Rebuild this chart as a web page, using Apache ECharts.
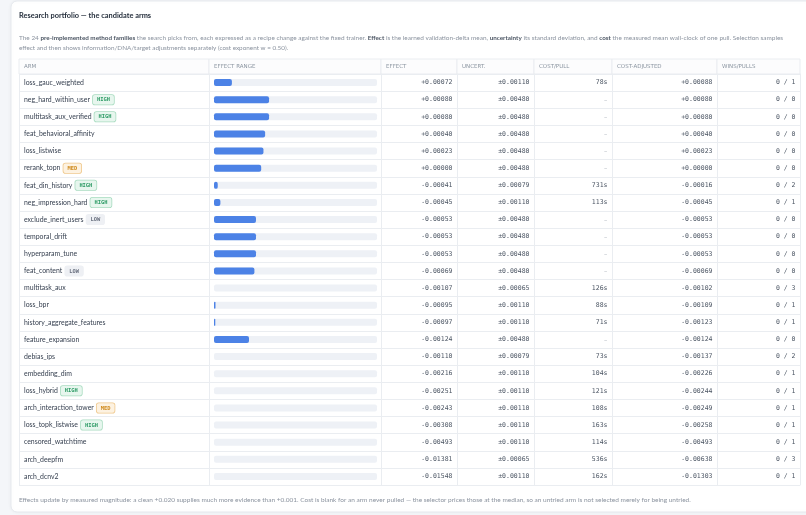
<!DOCTYPE html>
<html lang="en">
<head>
<meta charset="UTF-8">
<title>Research portfolio — the candidate arms</title>
<script src="https://cdn.jsdelivr.net/npm/echarts@6/dist/echarts.min.js"></script>
<style>
    html, body { margin: 0; padding: 0; background: #f4f6f9; }
    #chart { width: 806px; height: 515px; }
</style>
</head>
<body>
<div id="chart"></div>
<script>
    // 表格数据：每行一个候选 arm
    const arms = ['loss_gauc_weighted', 'neg_hard_within_user', 'multitask_aux_verified', 'feat_behavioral_affinity',
        'loss_listwise', 'rerank_topn', 'feat_din_history', 'neg_impression_hard', 'exclude_inert_users',
        'temporal_drift', 'hyperparam_tune', 'feat_content', 'multitask_aux', 'loss_bpr',
        'history_aggregate_features', 'feature_expansion', 'debias_ips', 'embedding_dim', 'loss_hybrid',
        'arch_interaction_tower', 'loss_topk_listwise', 'censored_watchtime', 'arch_deepfm', 'arch_dcnv2'];
    const badges = ['', 'HIGH', 'HIGH', '', '', 'MED', 'HIGH', 'HIGH', 'LOW', '', '', 'LOW',
        '', '', '', '', '', '', 'HIGH', 'MED', 'HIGH', '', '', ''];
    const effect = [0.00072, 0.00080, 0.00080, 0.00040, 0.00023, 0.00000, -0.00041, -0.00045, -0.00053,
        -0.00053, -0.00053, -0.00069, -0.00107, -0.00095, -0.00097, -0.00124, -0.00110, -0.00216,
        -0.00251, -0.00243, -0.00308, -0.00493, -0.01381, -0.01548];
    const uncert = [0.00110, 0.00480, 0.00480, 0.00480, 0.00480, 0.00480, 0.00079, 0.00110, 0.00480,
        0.00480, 0.00480, 0.00480, 0.00065, 0.00110, 0.00110, 0.00480, 0.00079, 0.00110,
        0.00110, 0.00110, 0.00110, 0.00110, 0.00065, 0.00110];
    const costPerPull = [78, null, null, null, null, null, 731, 113, null, null, null, null,
        126, 88, 71, null, 73, 104, 121, 108, 163, 114, 536, 162];
    const costAdjusted = [0.00088, 0.00080, 0.00080, 0.00040, 0.00023, 0.00000, -0.00016, -0.00045, -0.00053,
        -0.00053, -0.00053, -0.00069, -0.00102, -0.00109, -0.00123, -0.00124, -0.00137, -0.00226,
        -0.00244, -0.00249, -0.00258, -0.00493, -0.00638, -0.01303];
    const wins = [0, 0, 0, 0, 0, 0, 0, 0, 0, 0, 0, 0, 0, 0, 0, 0, 0, 0, 0, 0, 0, 0, 0, 0];
    const pulls = [1, 0, 0, 0, 0, 0, 2, 1, 0, 0, 0, 0, 3, 1, 1, 0, 2, 1, 1, 1, 1, 1, 3, 1];
    const headers = ['ARM', 'EFFECT RANGE', 'EFFECT', 'UNCERT.', 'COST/PULL', 'COST-ADJUSTED', 'WINS/PULLS'];

    const SANS = 'Lato, "Open Sans", sans-serif';
    const MONO = '"DejaVu Sans Mono", monospace';
    const LINE = '#eaedf1';

    // 列布局 (像素)
    const colEdges = [19, 209, 381, 457, 534, 612, 717, 800];
    const colAlign = ['left', 'left', 'right', 'right', 'right', 'right', 'right'];
    const HEAD_TOP = 59, BODY_TOP = 74, BODY_H = 411;

    function fmtSigned (v) {
        return (v >= 0 ? '+' : '-') + Math.abs(v).toFixed(5);
    }

    // 效果区间: 从 0 画到 effect + uncertainty 的上界, 刻度取所有边界绝对值的最大值
    const upper = effect.map((e, i) => Math.max(0, e + uncert[i]));
    const rangeMax = Math.max(...effect.map((e, i) => Math.max(Math.abs(e + uncert[i]), Math.abs(e - uncert[i]))));

    const cellTexts = [
        arms.map((a, i) => badges[i] ? a + '{sp| }{' + badges[i] + '|' + badges[i] + '}' : a),
        null,
        effect.map(fmtSigned),
        uncert.map((u) => '±' + u.toFixed(5)),
        costPerPull.map((c) => c === null ? '–' : c + 's'),
        costAdjusted.map(fmtSigned),
        wins.map((w, i) => w + ' / ' + pulls[i])
    ];

    const badgeBase = {
        fontFamily: MONO, fontSize: 5.4, fontWeight: 'bold',
        padding: [2.4, 4, 2, 4], borderRadius: 2, borderWidth: 0.8, lineHeight: 6
    };
    const badgeRich = {
        sp: {width: 3},
        HIGH: Object.assign({}, badgeBase, {fill: '#2f9c67', backgroundColor: '#e7f6ee', borderColor: '#a9dcc1'}),
        MED: Object.assign({}, badgeBase, {fill: '#cf8a1c', backgroundColor: '#fdf2e1', borderColor: '#efc88c'}),
        LOW: Object.assign({}, badgeBase, {fill: '#6b7280', backgroundColor: '#eef0f4', borderColor: '#eef0f4'})
    };

    let grid = [], xAxis = [], yAxis = [], series = [];

    function addGrid (left, right, top, height, extra) {
        grid.push(Object.assign({left: left, width: right - left, top: top, height: height}, extra || {}));
        return grid.length - 1;
    }

    function textSeries (gi, texts, align, styleFn) {
        return {
            type: 'custom', xAxisIndex: gi, yAxisIndex: gi, silent: true,
            data: texts.map((t, i) => [align === 'left' ? 0 : 1, i]),
            renderItem: function (params, api) {
                let p = api.coord([api.value(0), api.value(1)]);
                let style = Object.assign({
                    text: texts[params.dataIndex],
                    fill: '#4b5563', fontFamily: MONO, fontSize: 6.5,
                    align: align, verticalAlign: 'middle'
                }, styleFn ? styleFn(params.dataIndex) : {});
                return {type: 'text', x: p[0] + (align === 'left' ? 5 : -4.5), y: p[1], style: style};
            }
        };
    }

    for (let c = 0; c < headers.length; c++) {
        let x0 = colEdges[c], x1 = colEdges[c + 1];
        // 表头
        let hg = addGrid(x0, x1, HEAD_TOP, BODY_TOP - HEAD_TOP, {show: true, borderColor: LINE, borderWidth: 1, backgroundColor: '#fcfcfd'});
        xAxis.push({gridIndex: hg, type: 'value', min: 0, max: 1, show: false});
        yAxis.push({gridIndex: hg, type: 'category', data: ['h'], show: false});
        series.push(textSeries(hg, [headers[c]], 'left', () => ({fill: '#8b95a1', fontFamily: '"DejaVu Sans", sans-serif', fontSize: 5.5})));

        // 表体
        let bg = addGrid(x0, x1, BODY_TOP, BODY_H);
        xAxis.push({gridIndex: bg, type: 'value', min: 0, max: 1, show: false});
        yAxis.push({
            gridIndex: bg, type: 'category', data: arms, inverse: true,
            axisLine: {show: true, onZero: false, lineStyle: {color: LINE}},
            axisTick: {show: false}, axisLabel: {show: false},
            splitLine: {show: true, lineStyle: {color: LINE}}
        });
        if (c === headers.length - 1) {
            yAxis.push({
                gridIndex: bg, type: 'category', data: arms, inverse: true, position: 'right',
                axisLine: {show: true, onZero: false, lineStyle: {color: LINE}},
                axisTick: {show: false}, axisLabel: {show: false}, splitLine: {show: false}
            });
        }
        if (c === 0) {
            series.push(textSeries(bg, cellTexts[0], 'left', () => ({
                fill: '#374151', fontFamily: SANS, fontSize: 6.9, rich: badgeRich
            })));
        } else if (cellTexts[c]) {
            series.push(textSeries(bg, cellTexts[c], colAlign[c], (i) =>
                (c === 4 && costPerPull[i] === null) ? {fill: '#a3aab4', fontFamily: SANS} : {}));
        }
    }

    // 效果区间条
    let barGrid = addGrid(214, 377, BODY_TOP, BODY_H);
    xAxis.push({gridIndex: barGrid, type: 'value', min: 0, max: rangeMax, show: false});
    yAxis.push({gridIndex: barGrid, type: 'category', data: arms, inverse: true, show: false});
    series.push({
        type: 'bar', xAxisIndex: xAxis.length - 1, yAxisIndex: yAxis.length - 1,
        data: upper, barWidth: 7, silent: true,
        itemStyle: {color: '#4c82e6', borderRadius: 2},
        showBackground: true,
        backgroundStyle: {color: '#eef1f6', borderRadius: 2}
    });

    const muted = '#8b939f', strong = '#4b5563';
    let fig = echarts.init(document.getElementById('chart'), null, {renderer: 'canvas'});
    fig.setOption({
        animation: false,
        backgroundColor: '#f4f6f9',
        graphic: [
            {
                type: 'rect', z: -10, shape: {x: 11, y: 1, width: 820, height: 511, r: 6},
                style: {fill: '#ffffff', stroke: '#e6e9ee', lineWidth: 1, shadowBlur: 4, shadowColor: 'rgba(0,0,0,0.04)'}
            },
            {
                type: 'text', left: 19, top: 12,
                style: {text: 'Research portfolio — the candidate arms', fill: '#1f2937', fontFamily: SANS, fontSize: 7.4, fontWeight: 'bold'}
            },
            {
                type: 'text', left: 19, top: 34.5,
                style: {
                    text: 'The 24 {b|pre-implemented method families} the search picks from, each expressed as a recipe change against the fixed trainer. {b|Effect} is the learned validation-delta mean, {b|uncertainty} its standard deviation, and {b|cost} the measured mean wall-clock of one pull. Selection samples',
                    fill: muted, fontFamily: SANS, fontSize: 6.45,
                    rich: {b: {fill: strong, fontFamily: SANS, fontSize: 6.3, fontWeight: 'bold'}}
                }
            },
            {
                type: 'text', left: 19, top: 45,
                style: {text: 'effect and then shows information/DNA/target adjustments separately (cost exponent w = 0.50).', fill: muted, fontFamily: SANS, fontSize: 6.35}
            },
            {
                type: 'text', left: 19, top: 496,
                style: {text: 'Effects update by measured magnitude: a clean +0.020 supplies much more evidence than +0.001. Cost is blank for an arm never pulled — the selector prices those at the median, so an untried arm is not selected merely for being untried.', fill: muted, fontFamily: SANS, fontSize: 6.5}
            }
        ],
        grid: grid,
        xAxis: xAxis,
        yAxis: yAxis,
        series: series
    });
</script>
</body>
</html>
